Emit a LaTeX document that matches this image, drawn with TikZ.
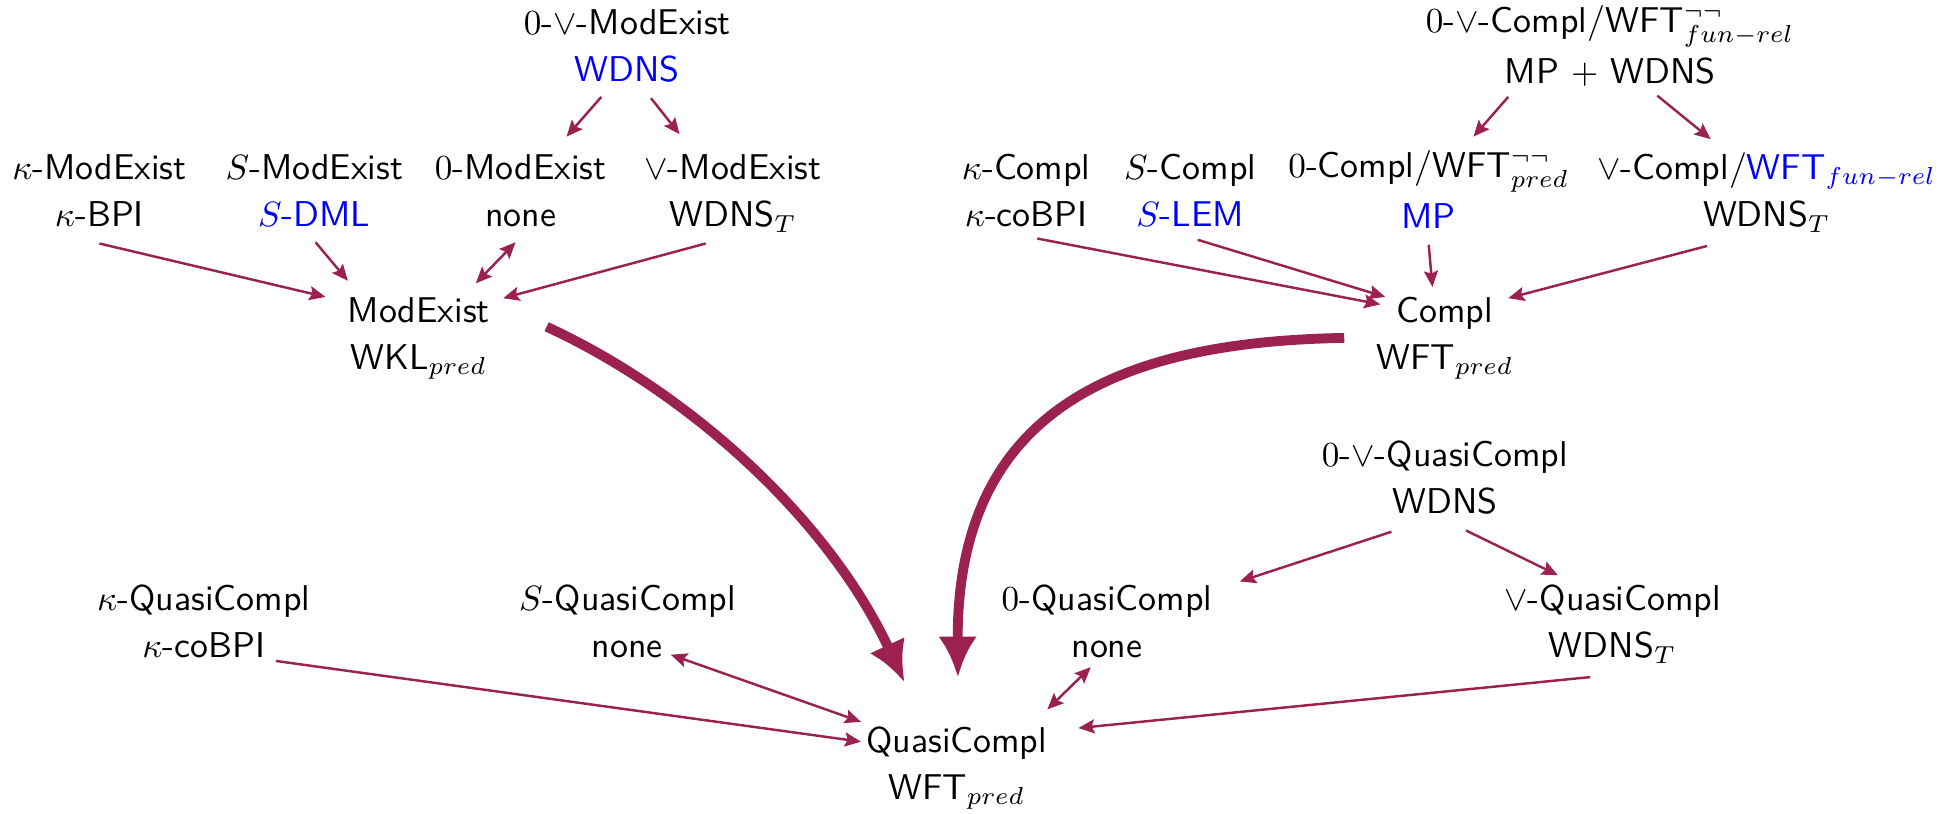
\documentclass[tikz,border=0pt]{standalone}
\usetikzlibrary{arrows.meta,calc}
\definecolor{arr}{RGB}{155,34,80}
\definecolor{hl}{RGB}{0,0,255}
\begin{document}
\begin{tikzpicture}[x=0.012423cm,y=-0.012423cm,
  lbl/.style={font=\sffamily\fontsize{10.2}{13.4}\selectfont, align=center, inner sep=0pt},
  edgearr/.style={draw=arr, line width=0.7pt, -{Stealth[length=4.6pt,width=4pt,inset=0.8pt]}},
  bothar/.style={draw=arr, line width=0.7pt, {Stealth[length=4.6pt,width=4pt,inset=0.8pt]}-{Stealth[length=4.6pt,width=4pt,inset=0.8pt]}},
  bigarr/.style={draw=arr, line width=2.8pt, -{Latex[length=11.5pt,width=11pt]}}
]
\useasboundingbox (0,0) rectangle (1568,655);

% ModExist group
\node[lbl] (mtop) at (505,39) {\strut$0$-$\vee$-ModExist\\\strut\textcolor{hl}{WDNS}};
\node[lbl] (mk) at (80,156) {\strut$\kappa$-ModExist\\\strut$\kappa$-BPI};
\node[lbl] (ms) at (253,156) {\strut$S$-ModExist\\\strut\textcolor{hl}{$S$-DML}};
\node[lbl] (m0) at (419,156) {\strut$0$-ModExist\\\strut none};
\node[lbl] (mv) at (590,156) {\strut$\vee$-ModExist\\\strut WDNS$_T$};
\node[lbl] (mod) at (337,271) {\strut ModExist\\\strut WKL$_{pred}$};

% Compl group
\node[lbl] (ctop) at (1296,39) {\strut$0$-$\vee$-Compl/WFT$^{\neg\neg}_{fun-rel}$\\\strut MP $+$ WDNS};
\node[lbl] (ck) at (826,156) {\strut$\kappa$-Compl\\\strut$\kappa$-coBPI};
\node[lbl] (cs) at (958,156) {\strut$S$-Compl\\\strut\textcolor{hl}{$S$-LEM}};
\node[lbl] (c0) at (1150,156) {\strut$0$-Compl/WFT$^{\neg\neg}_{pred}$\\\strut\textcolor{hl}{MP}};
\node[lbl] (cv) at (1422,156) {\strut$\vee$-Compl/\textcolor{hl}{WFT$_{fun-rel}$}\\\strut WDNS$_T$};
\node[lbl] (comp) at (1163,271) {\strut Compl\\\strut WFT$_{pred}$};

% QuasiCompl group
\node[lbl] (qtop) at (1163,387) {\strut$0$-$\vee$-QuasiCompl\\\strut WDNS};
\node[lbl] (qk) at (164,503) {\strut$\kappa$-QuasiCompl\\\strut$\kappa$-coBPI};
\node[lbl] (qs) at (505,503) {\strut$S$-QuasiCompl\\\strut none};
\node[lbl] (q0) at (891,503) {\strut$0$-QuasiCompl\\\strut none};
\node[lbl] (qv) at (1298,503) {\strut$\vee$-QuasiCompl\\\strut WDNS$_T$};
\node[lbl] (quasi) at (770,617) {\strut QuasiCompl\\\strut WFT$_{pred}$};

% ModExist arrows
\draw[edgearr] ($(mtop)+(-21,39)$) -- ($(m0)+(37,-46)$);
\draw[edgearr] ($(mtop)+(19,40)$) -- ($(mv)+(-43,-48)$);
\draw[edgearr] ($(mk)+(0,40)$) -- ($(mod)+(-75,-32)$);
\draw[edgearr] ($(ms)+(1,39)$) -- ($(mod)+(-57,-45)$);
\draw[bothar] ($(m0)+(-4,39)$) -- ($(mod)+(46,-43)$);
\draw[edgearr] ($(mv)+(-22,40)$) -- ($(mod)+(68,-31)$);

% Compl arrows
\draw[edgearr] ($(ctop)+(-82,39)$) -- ($(c0)+(36,-46)$);
\draw[edgearr] ($(ctop)+(38,38)$) -- ($(cv)+(-45,-44)$);
\draw[edgearr] ($(ck)+(9,36)$) -- ($(comp)+(-52,-26)$);
\draw[edgearr] ($(cs)+(6,37)$) -- ($(comp)+(-48,-32)$);
\draw[edgearr] ($(c0)+(0,41)$) -- ($(comp)+(-10,-40)$);
\draw[edgearr] ($(cv)+(-48,42)$) -- ($(comp)+(51,-31)$);

% thick arrows
\draw[bigarr] ($(mod)+(103,-8)$) .. controls +(115,53) and +(-61,-131) .. ($(quasi)+(-42,-68)$);
\draw[bigarr] ($(comp)+(-81,1)$) .. controls +(-182,3) and +(-1,-215) .. ($(quasi)+(1,-72)$);

% QuasiCompl arrows
\draw[edgearr] ($(qtop)+(-43,41)$) -- ($(q0)+(107,-35)$);
\draw[edgearr] ($(qtop)+(17,40)$) -- ($(qv)+(-44,-40)$);
\draw[edgearr] ($(qk)+(58,29)$) -- ($(quasi)+(-77,-20)$);
\draw[bothar] ($(qs)+(35,24)$) -- ($(quasi)+(-77,-36)$);
\draw[bothar] ($(q0)+(-13,34)$) -- ($(quasi)+(73,-46)$);
\draw[edgearr] ($(qv)+(-18,42)$) -- ($(quasi)+(98,-31)$);
\end{tikzpicture}
\end{document}
